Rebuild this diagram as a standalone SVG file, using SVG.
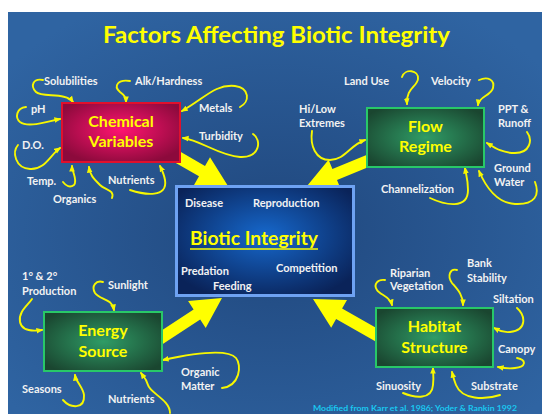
<svg xmlns="http://www.w3.org/2000/svg" width="542" height="414" viewBox="0 0 542 414">
  <defs>
    <radialGradient id="bg" cx="50%" cy="55%" r="65%">
      <stop offset="0" stop-color="#20477d"/>
      <stop offset="1" stop-color="#2f64a2"/>
    </radialGradient>
    <radialGradient id="redFill" cx="50%" cy="45%" r="60%">
      <stop offset="0" stop-color="#ff1470"/>
      <stop offset="1" stop-color="#8c0a3c"/>
    </radialGradient>
    <radialGradient id="greenFill" cx="50%" cy="50%" r="62%">
      <stop offset="0" stop-color="#2f9c66"/>
      <stop offset="1" stop-color="#1a4630"/>
    </radialGradient>
    <radialGradient id="blueFill" cx="50%" cy="45%" r="62%">
      <stop offset="0" stop-color="#1668cc"/>
      <stop offset="1" stop-color="#0a2359"/>
    </radialGradient>
    <marker id="tip" viewBox="0 0 10 10" refX="8" refY="5" markerWidth="7" markerHeight="7" markerUnits="userSpaceOnUse" orient="auto">
      <path d="M0,1 L10,5 L0,9 z" fill="#f7f700"/>
    </marker>
    <style>
      .lbl { font-family: Lato, "Liberation Sans", sans-serif; font-weight: 700; font-size: 11px; fill: #f2f2f2; }
      .head { font-family: Lato, "Liberation Sans", sans-serif; font-weight: 700; font-size: 16px; fill: #ffff00; text-anchor: middle; }
      .curl { fill: none; stroke: #f7f700; stroke-width: 1.9; stroke-linecap: round; marker-end: url(#tip); }
      .big { fill: #ffff00; }
    </style>
  </defs>

  <!-- slide background -->
  <rect x="0" y="0" width="542" height="414" fill="#ffffff"/>
  <rect x="8" y="12" width="534" height="402" fill="url(#bg)"/>

  <g id="title">
    <text x="103" y="43" textLength="347" lengthAdjust="spacingAndGlyphs" style="font-family: Lato, 'Liberation Sans', sans-serif; font-weight: 700; font-size: 23px; fill: #ffff00;">Factors Affecting Biotic Integrity</text>
  </g>

  <g id="connectors">
    <!-- main arrows into Biotic Integrity -->
    <polygon class="big" points="177.0,149.8 205.0,165.9 210.0,157.2 228,186 194.0,184.9 199.0,176.3 171.0,160.2"/>
    <polygon class="big" points="367.7,154.5 332.4,169.0 328.6,159.8 307,186 340.8,189.3 337.0,180.1 372.3,165.5"/>
    <polygon class="big" points="154.7,335.0 193.6,309.5 188.1,301.1 222,298 205.7,327.9 200.2,319.5 161.3,345.0"/>
    <polygon class="big" points="383.0,331.8 342.1,308.6 347.0,299.9 313,299 331.2,327.7 336.1,319.0 377.0,342.2"/>

    <!-- chemical factors -->
    <path class="curl" d="M43,80 C33,78 30,86 36,92 C42,98 66,92 73,102"/>
    <path class="curl" d="M130,81 C118,79 113,86 120,92 C124,95 126,97 126,102"/>
    <path class="curl" d="M26,107 C16,108 15,118 20,122 C28,128 45,122 60,119"/>
    <path class="curl" d="M18,145 C12,152 15,168 30,169 C45,170 50,155 60,148"/>
    <path class="curl" d="M63,182 C66,186 70,188 74,185 C78,180 72,172 72,166"/>
    <path class="curl" d="M112,198 C115,190 105,190 100,185 C93,178 90,175 89,167"/>
    <path class="curl" d="M130,190 C145,195 168,198 165,180 C164,174 162,170 160,166"/>
    <path class="curl" d="M240,107 C250,102 250,88 235,86 C215,84 205,98 182,111"/>
    <path class="curl" d="M253,134 C262,140 260,158 240,157 C220,156 200,140 183,138"/>

    <!-- flow factors -->
    <path class="curl" d="M402,77 C405,68 419,70 418,79 C417,87 406,88 407,104"/>
    <path class="curl" d="M479,80 C488,76 495,80 493,88 C491,96 479,96 478,105"/>
    <path class="curl" d="M312,131 C310,145 315,160 330,160 C345,160 350,145 365,140"/>
    <path class="curl" d="M527,132 C533,140 530,153 515,153 C502,153 495,148 487,143"/>
    <path class="curl" d="M535,182 C540,195 535,205 515,204 C495,203 485,185 479,171"/>
    <path class="curl" d="M430,198 C445,205 468,210 468,190 C468,180 466,174 465,168"/>

    <!-- biotic processes -->
    <path class="curl" d="M207,193 C220,190 236,193 234,203 C232,212 228,215 227,223"/>
    <path class="curl" d="M317,194 C328,190 342,192 340,203 C338,212 326,218 323,227"/>
    <path class="curl" d="M238,273 C243,271 245,265 240,262 C234,258 222,258 213,251"/>
    <path class="curl" d="M262,293 C267,283 254,270 253,254"/>
    <path class="curl" d="M307,289 C295,295 275,292 272,275 C270,265 275,258 284,254"/>

    <!-- energy factors -->
    <path class="curl" d="M32,299 C28,305 18,312 20,322 C22,332 35,331 42,330"/>
    <path class="curl" d="M103,282 C96,280 91,286 95,293 C100,300 112,298 114,310"/>
    <path class="curl" d="M63,400 C70,408 85,410 84,395 C83,387 76,382 75,375"/>
    <path class="curl" d="M170,413 C170,400 150,393 148,385 C146,378 143,376 141,373"/>
    <path class="curl" d="M222,388 C240,386 242,365 236,358 C228,349 200,352 163,360"/>

    <!-- habitat factors -->
    <path class="curl" d="M385,280 C378,279 373,284 377,290 C380,295 390,296 392,305"/>
    <path class="curl" d="M457,270 C450,268 447,276 452,283 C458,290 463,295 463,305"/>
    <path class="curl" d="M517,308 C525,315 528,330 510,332 C502,333 498,330 494,328"/>
    <path class="curl" d="M517,358 C527,360 526,367 515,368 C508,369 503,368 498,367"/>
    <path class="curl" d="M403,393 C415,398 432,400 433,385 C434,378 433,372 433,368"/>
    <path class="curl" d="M500,395 C485,400 462,400 456,385 C454,380 453,376 452,372"/>
  </g>

  <g id="chemical">
    <rect x="62" y="103" width="118" height="59" fill="url(#redFill)" stroke="#e0102c" stroke-width="2"/>
    <text class="head" x="121" y="127">Chemical</text>
    <text class="head" x="121" y="147">Variables</text>
  </g>

  <g id="flow">
    <rect x="367" y="108" width="117" height="59" fill="url(#greenFill)" stroke="#28c868" stroke-width="2"/>
    <text class="head" x="425.5" y="132">Flow</text>
    <text class="head" x="425.5" y="152">Regime</text>
  </g>

  <g id="energy">
    <rect x="44" y="312" width="118" height="59" fill="url(#greenFill)" stroke="#28c868" stroke-width="2"/>
    <text class="head" x="103" y="336">Energy</text>
    <text class="head" x="103" y="357">Source</text>
  </g>

  <g id="habitat">
    <rect x="376" y="308" width="117" height="59" fill="url(#greenFill)" stroke="#28c868" stroke-width="2"/>
    <text class="head" x="434.5" y="332">Habitat</text>
    <text class="head" x="434.5" y="353">Structure</text>
  </g>

  <g id="biotic">
    <rect x="176.5" y="186.5" width="177" height="109" fill="url(#blueFill)" stroke="#6ea2f2" stroke-width="3"/>
    <text x="190" y="245" textLength="128" lengthAdjust="spacingAndGlyphs" style="font-family: Lato, 'Liberation Sans', sans-serif; font-weight: 700; font-size: 18px; fill: #ffff00;">Biotic Integrity</text>
    <line x1="190" y1="249" x2="318" y2="249" stroke="#ffff00" stroke-width="1.5"/>
  </g>

  <!-- factor labels -->
  <g id="lbl-solubilities"><text class="lbl" x="44" y="85">Solubilities</text></g>
  <g id="lbl-alk"><text class="lbl" x="135" y="85">Alk/Hardness</text></g>
  <g id="lbl-ph"><text class="lbl" x="31" y="113">pH</text></g>
  <g id="lbl-metals"><text class="lbl" x="199" y="112">Metals</text></g>
  <g id="lbl-turbidity"><text class="lbl" x="199" y="140">Turbidity</text></g>
  <g id="lbl-do"><text class="lbl" x="22" y="149">D.O.</text></g>
  <g id="lbl-temp"><text class="lbl" x="27" y="185">Temp.</text></g>
  <g id="lbl-nutrients-chem"><text class="lbl" x="108" y="184">Nutrients</text></g>
  <g id="lbl-organics"><text class="lbl" x="53" y="203">Organics</text></g>

  <g id="lbl-landuse"><text class="lbl" x="344" y="85">Land Use</text></g>
  <g id="lbl-velocity"><text class="lbl" x="431" y="85">Velocity</text></g>
  <g id="lbl-hilow"><text class="lbl" x="299" y="113">Hi/Low</text><text class="lbl" x="299" y="127">Extremes</text></g>
  <g id="lbl-ppt"><text class="lbl" x="498" y="113">PPT &amp;</text><text class="lbl" x="498" y="127">Runoff</text></g>
  <g id="lbl-ground"><text class="lbl" x="494" y="172">Ground</text><text class="lbl" x="494" y="186">Water</text></g>
  <g id="lbl-channel"><text class="lbl" x="381" y="193">Channelization</text></g>

  <g id="lbl-disease"><text class="lbl" x="185" y="207">Disease</text></g>
  <g id="lbl-reproduction"><text class="lbl" x="253" y="207">Reproduction</text></g>
  <g id="lbl-predation"><text class="lbl" x="181" y="275">Predation</text></g>
  <g id="lbl-feeding"><text class="lbl" x="213" y="290">Feeding</text></g>
  <g id="lbl-competition"><text class="lbl" x="276" y="272">Competition</text></g>

  <g id="lbl-production"><text class="lbl" x="22" y="280">1° &amp; 2°</text><text class="lbl" x="22" y="295">Production</text></g>
  <g id="lbl-sunlight"><text class="lbl" x="108" y="289">Sunlight</text></g>
  <g id="lbl-seasons"><text class="lbl" x="22" y="393">Seasons</text></g>
  <g id="lbl-nutrients-energy"><text class="lbl" x="108" y="403">Nutrients</text></g>
  <g id="lbl-organic"><text class="lbl" x="181" y="376">Organic</text><text class="lbl" x="181" y="390">Matter</text></g>

  <g id="lbl-riparian"><text class="lbl" x="390" y="277">Riparian</text><text class="lbl" x="390" y="290">Vegetation</text></g>
  <g id="lbl-bank"><text class="lbl" x="467" y="267">Bank</text><text class="lbl" x="467" y="282">Stability</text></g>
  <g id="lbl-siltation"><text class="lbl" x="493" y="303">Siltation</text></g>
  <g id="lbl-canopy"><text class="lbl" x="498" y="353">Canopy</text></g>
  <g id="lbl-sinuosity"><text class="lbl" x="376" y="390">Sinuosity</text></g>
  <g id="lbl-substrate"><text class="lbl" x="471" y="390">Substrate</text></g>

  <!-- source note along the bottom edge -->
  <text x="313" y="411" textLength="204" lengthAdjust="spacingAndGlyphs" style="font-family: Lato, 'Liberation Sans', sans-serif; font-weight: 700; font-size: 8px; fill: #19c8f0;">Modified from  Karr et al. 1986; Yoder &amp; Rankin 1992</text>
</svg>
